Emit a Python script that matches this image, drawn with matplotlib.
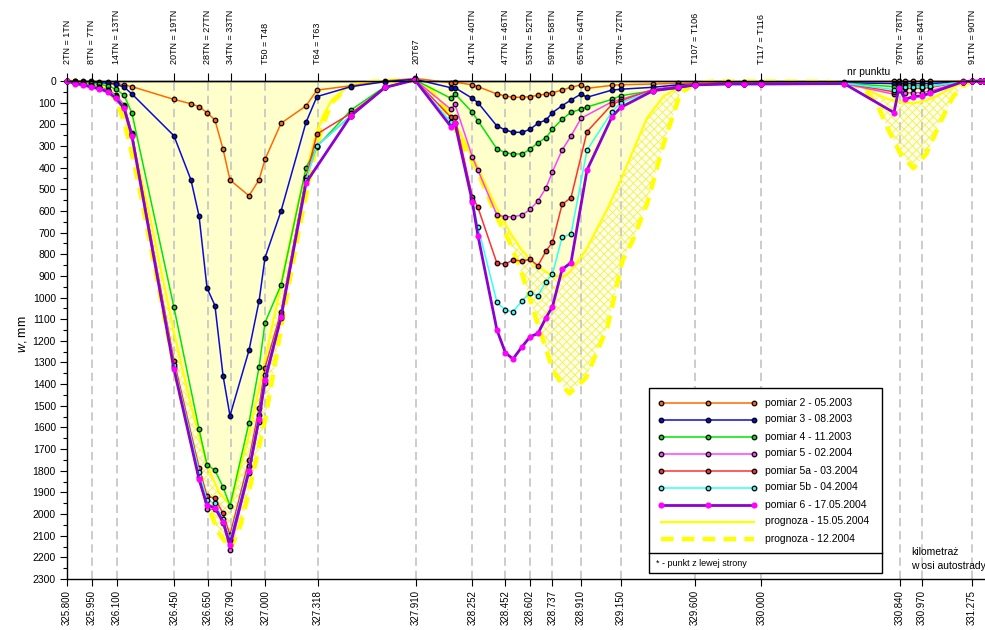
import numpy as np
import matplotlib
matplotlib.use('Agg')
import matplotlib.pyplot as plt
from matplotlib.lines import Line2D
from matplotlib.patches import Rectangle
from matplotlib.ticker import MultipleLocator, FixedLocator

plt.rcParams['font.family'] = ['Liberation Sans', 'DejaVu Sans']
plt.rcParams['mathtext.fontset'] = 'custom'
plt.rcParams['mathtext.it'] = 'Liberation Sans:italic'
plt.rcParams['mathtext.rm'] = 'Liberation Sans'
plt.rcParams['lines.scale_dashes'] = False
plt.rcParams['hatch.linewidth'] = 0.7

# ---------------- data ----------------
TICK_KM = [325.800, 325.950, 326.100, 326.450, 326.650, 326.790, 327.000, 327.318,
           327.910, 328.252, 328.452, 328.602, 328.737, 328.910, 329.150, 329.600,
           330.000, 330.840, 330.970, 331.275]
TOP_LABELS = ["2TN = 1TN", "8TN = 7TN", "14TN = 13TN", "20TN = 19TN", "28TN = 27TN",
              "34TN = 33TN", "T50 = T48", "T64 = T63", "20T67", "41TN = 40TN",
              "47TN = 46TN", "53TN = 52TN", "59TN = 58TN", "65TN = 64TN", "73TN = 72TN",
              "T107 = T106", "T117 = T116", "79TN = 78TN", "85TN = 84TN", "91TN = 90TN"]

KM = [325.800, 325.848, 325.897, 325.945, 325.994, 326.048, 326.096, 326.145, 326.193,
      326.447, 326.550, 326.599, 326.647, 326.695, 326.744, 326.786,
      326.901, 326.962, 326.998, 327.095,
      327.246, 327.312, 327.518, 327.724, 327.905,
      328.123, 328.147, 328.252, 328.286,
      328.401, 328.452, 328.498, 328.553, 328.602, 328.649, 328.698, 328.737,
      328.795, 328.849, 328.910, 328.946,
      329.097, 329.150,
      329.345, 329.496, 329.600,
      329.799, 329.896, 330.000,
      330.501,
      330.803, 330.833, 330.870, 330.918, 330.970, 331.021,
      331.220, 331.275, 331.323, 331.350]

P2 = [0, 0, 0, 2, 3, 5, 11, 18, 26,
      85, 105, 119, 146, 180, 315, 457,
      530, 456, 362, 195,
      115, 42, 22, 0, -12,
      8, 5, 18, 26,
      60, 69, 75, 75, 72, 66, 60, 54,
      42, 29, 18, 34,
      20, 17,
      14, 11, 8,
      5, 5, 5,
      3,
      2, 2, 2, 2, 2, 2,
      0, 0, 0, 0]

P3 = [0, 2, 3, 5, 8, 10, 15, 28, 60,
      253, 457, 624, 956, 1037, 1361, 1546,
      1244, 1016, 816, 600,
      191, 72, 26, 3, -8,
      31, 31, 80, 100,
      208, 226, 237, 237, 223, 195, 180, 146,
      114, 88, 60, 75,
      42, 38,
      29, 18, 14,
      10, 10, 10,
      8,
      12, 12, 12, 12, 12, 12,
      3, 0, 0, 0]

P4 = [0, 4, 6, 10, 15, 22, 38, 65, 149,
      1045, None, 1609, 1772, 1798, 1875, 1962,
      1578, 1320, 1116, 941,
      400, 303, 134, 26, -5,
      80, 59, 145, 183,
      314, 331, 337, 337, 315, 285, 262, 222,
      177, 145, 130, 120,
      85, 68,
      45, 34, 18,
      14, 12, 12,
      10,
      26, 23, 23, 23, 23, 23,
      3, 0, 0, 0]

P5 = [0, 8, 12, 20, 28, 40, 65, 110, 240,
      1322, None, 1828, 1978, 1978, 2043, 2166,
      1812, 1573, 1396, 1096,
      450, 300, 160, 30, -5,
      131, 108, 350, 412,
      619, 627, 627, 619, 593, 554, 493, 419,
      319, 254, 172, None,
      96, 85,
      40, 25, 15,
      12, 12, 12,
      12,
      61, 40, 54, 54, 54, 46,
      3, 0, 0, 0]

P5A = [0, 9, 14, 22, 30, 43, 70, 115, 245,
       1292, None, 1786, 1917, 1928, 1997, 2097,
       1750, 1509, 1324, 1065,
       445, 245, 149, 30, -5,
       168, 168, 534, 584,
       842, 845, 827, 831, 824, 853, 785, 745,
       570, 539, None, 234,
       108, 91,
       40, 25, 15,
       12, 12, 12,
       10,
       50, 35, 34, 34, 34, 30,
       3, 0, 0, 0]

P5B = [0, 10, 15, 24, 32, 45, 72, 118, 248,
       1312, None, 1805, 1935, 1951, 2025, 2120,
       1777, 1541, 1358, 1081,
       455, 300, 160, 30, -5,
       191, 196, 550, 673,
       1022, 1058, 1066, 1015, 978, 992, 927, 891,
       722, 707, None, 319,
       142, 100,
       45, 28, 17,
       12, 12, 12,
       10,
       40, 30, 28, 28, 28, 25,
       3, 0, 0, 0]

P6 = [0, 12, 18, 28, 36, 50, 80, 125, 255,
      1330, None, 1840, 1960, 1970, 2035, 2143,
      1800, 1560, 1380, 1090,
      470, None, 160, 30, -5,
      211, 196, 557, 714,
      1150, 1255, 1284, 1227, 1181, 1166, 1093, 1042,
      870, 839, None, 411,
      165, 122,
      45, 30, 18,
      14, 14, 14,
      12,
      146, 31, 85, 72, 69, 57,
      3, 0, 0, 0]

PROG_KM = [325.80, 325.95, 326.05, 326.10, 326.15, 326.20, 326.25, 326.30, 326.45, 326.55,
           326.65, 326.72, 326.79, 326.85, 326.90, 327.00, 327.10, 327.20, 327.30, 327.35,
           327.40, 327.50, 327.60, 327.75, 327.91, 328.00, 328.10, 328.20, 328.28, 328.40,
           328.48, 328.55, 328.64, 328.74, 328.80, 328.84, 328.94, 329.07, 329.16, 329.22,
           329.31, 329.41, 329.51, 329.60, 329.70, 330.00, 330.40, 330.55, 330.62, 330.70,
           330.76, 330.84, 330.92, 331.00, 331.08, 331.16, 331.24, 331.30, 331.35]

PROG_1505 = [0, 8, 35, 70, 150, 290, 450, 620, 1170, 1500,
             1780, 1900, 1960, 1780, 1640, 1280, 920, 560, 260, 160,
             90, 25, 5, 0, -3, 40, 130, 270, 390, 590,
             700, 780, 855, 900, 903, 885, 780, 590, 440, 330,
             170, 70, 25, 10, 3, 3, 4, 15, 32, 62,
             82, 97, 103, 90, 62, 28, 5, 0, 0]

PROG_1204 = [0, 12, 45, 90, 200, 360, 540, 740, 1330, 1660,
             1960, 2090, 2160, 2050, 1900, 1560, 1120, 700, 330, 200,
             100, 30, 6, 0, -3, 40, 150, 300, 411, 627,
             748, 885, 1104, 1335, 1410, 1443, 1370, 1135, 830, 740,
             565, 288, 57, 10, 3, 3, 4, 15, 35, 105,
             211, 333, 403, 334, 195, 72, 11, 0, 0]

SERIES = [
    ("pomiar 2 - 05.2003", P2, '#FF6A00'),
    ("pomiar 3 - 08.2003", P3, '#0A0ADC'),
    ("pomiar 4 - 11.2003", P4, '#00E600'),
    ("pomiar 5 - 02.2004", P5, '#FF40FF'),
    ("pomiar 5a - 03.2004", P5A, '#FF3030'),
    ("pomiar 5b - 04.2004", P5B, '#30FFFF'),
    ("pomiar 6 - 17.05.2004", P6, '#8C00D0'),
]

# ---------------- figure ----------------
W, H = 985, 630
fig = plt.figure(figsize=(W / 100, H / 100), dpi=100)
ax = fig.add_axes([67 / W, (H - 579) / H, 918 / W, 498 / H])
ax.set_xlim(325.8, 325.8 + 918 / 165.3)
ax.set_ylim(2300, 0)

pk = np.array(PROG_KM)
p1 = np.array(PROG_1505, dtype=float)
p2 = np.array(PROG_1204, dtype=float)
ax.fill_between(pk, 0, p1, facecolor='#FFFFCC', lw=0, zorder=1)
ax.fill_between(pk, p1, p2, where=p2 >= p1, interpolate=True, facecolor='#FFFFEE',
                edgecolor='#F2F25A', hatch='xxxx', lw=0, zorder=1)

for k in TICK_KM:
    ax.axvline(k, color='#C8C8C8', lw=1.3, dashes=(6, 3.5), zorder=2)

ax.plot(pk, p1, color='#FFFF00', lw=1.6, zorder=3, clip_on=False)
ax.plot(pk, p2, color='#FFFF00', lw=3.2, dashes=(9, 6), zorder=3, clip_on=False)

MS = 3.3
for i, (name, w, col) in enumerate(SERIES):
    k = np.array([x for x, v in zip(KM, w) if v is not None])
    v = np.array([v for v in w if v is not None], dtype=float)
    if name.startswith("pomiar 6"):
        ax.plot(k, v, color=col, lw=2.0, marker='o', ms=3.4, mfc='#FF00FF',
                mec='#FF00FF', zorder=10, clip_on=False)
    else:
        ax.plot(k, v, color=col, lw=1.1, marker='o', ms=MS, mfc=col, mec='black',
                mew=0.9, zorder=4 + i, clip_on=False)

# axes styling
ax.spines['right'].set_visible(False)
for s in ['left', 'bottom', 'top']:
    ax.spines[s].set_linewidth(1.0)
    ax.spines[s].set_color('black')

ax.yaxis.set_major_locator(MultipleLocator(100))
ax.yaxis.set_minor_locator(MultipleLocator(50))
ax.tick_params(axis='y', which='major', length=5, width=0.8, labelsize=7.5, pad=3,
               direction='out')
ax.tick_params(axis='y', which='minor', length=3, width=0.8, direction='out')

ax.xaxis.set_major_locator(FixedLocator(TICK_KM))
ax.set_xticklabels(["%.3f" % t for t in TICK_KM], rotation=90, fontsize=7)
ax.tick_params(axis='x', which='major', length=5, width=0.8, pad=3, direction='out')

ax2 = ax.twiny()
ax2.set_xlim(ax.get_xlim())
ax2.xaxis.set_major_locator(FixedLocator(TICK_KM))
ax2.set_xticklabels(TOP_LABELS, rotation=90, fontsize=6.5)
ax2.tick_params(axis='x', which='major', length=6, width=0.8, pad=6, direction='out')
for s in ['left', 'right', 'bottom']:
    ax2.spines[s].set_visible(False)
ax2.spines['top'].set_linewidth(1.0)


def P(x, y):
    return (x / W, 1 - y / H)


fig.text(*P(23, 334), r'$w$, mm', rotation=90, ha='center', va='center', fontsize=9)
fig.text(*P(869, 72), 'nr punktu', ha='center', va='center', fontsize=7.5)
fig.text(*P(911, 552), 'kilometraż', ha='left', va='center', fontsize=7.5)
fig.text(*P(911, 566), 'w osi autostrady', ha='left', va='center', fontsize=7.5)

# legend (drawn by hand)
x0, y0, x1, y1 = 649, 388, 882, 573
fig.add_artist(Rectangle(P(x0, y1), (x1 - x0) / W, (y1 - y0) / H, transform=fig.transFigure,
                         facecolor='white', edgecolor='black', lw=1.0, zorder=20))
fig.add_artist(Line2D([x0 / W, x1 / W], [1 - 553 / H, 1 - 553 / H], transform=fig.transFigure,
                      color='black', lw=1.0, zorder=21))
lx = [661 / W, 707.5 / W, 754 / W]
row0, dy = 402.5, 17.0
for i, (name, w, col) in enumerate(SERIES):
    yy = 1 - (row0 + i * dy) / H
    if name.startswith("pomiar 6"):
        ln = Line2D(lx, [yy] * 3, transform=fig.transFigure, color=col, lw=2.0, marker='o',
                    ms=3.4, mfc='#FF00FF', mec='#FF00FF', zorder=22)
    else:
        ln = Line2D(lx, [yy] * 3, transform=fig.transFigure, color=col, lw=1.1, marker='o',
                    ms=MS, mfc=col, mec='black', mew=0.9, zorder=22)
    fig.add_artist(ln)
    fig.text(765 / W, yy, name, ha='left', va='center', fontsize=7.5, zorder=23)
i = len(SERIES)
yy = 1 - (row0 + i * dy) / H
fig.add_artist(Line2D([lx[0], lx[2]], [yy, yy], transform=fig.transFigure, color='#FFFF00',
                      lw=1.6, zorder=22))
fig.text(765 / W, yy, "prognoza - 15.05.2004", ha='left', va='center', fontsize=7.5, zorder=23)
yy = 1 - (row0 + (i + 1) * dy) / H
fig.add_artist(Line2D([lx[0], lx[2]], [yy, yy], transform=fig.transFigure, color='#FFFF00',
                      lw=3.2, dashes=(9, 6), zorder=22))
fig.text(765 / W, yy, "prognoza - 12.2004", ha='left', va='center', fontsize=7.5, zorder=23)
fig.text(656 / W, 1 - 563 / H, "* - punkt z lewej strony", ha='left', va='center',
         fontsize=6.5, zorder=23)

fig.savefig('out.png', dpi=100)
